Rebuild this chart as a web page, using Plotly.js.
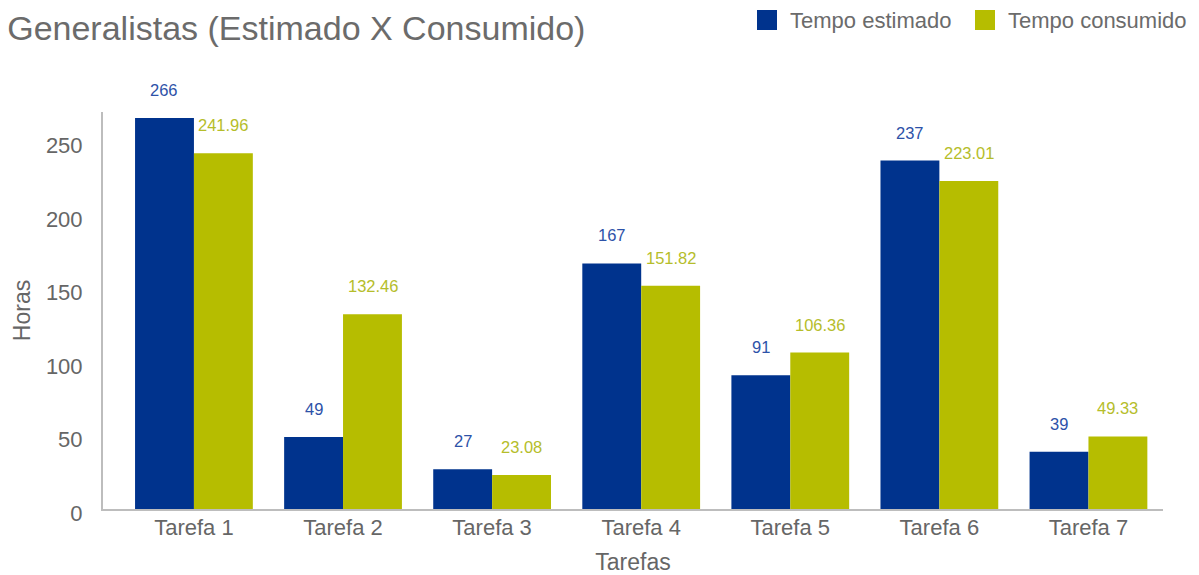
<!DOCTYPE html>
<html><head><meta charset="utf-8">
<script src="https://cdn.plot.ly/plotly-3.0.1.min.js"></script>
<style>body{margin:0;background:#fff}#c{width:1199px;height:575px}</style>
</head><body><div id="c"></div>
<script>
const categories = ['Tarefa 1','Tarefa 2','Tarefa 3','Tarefa 4','Tarefa 5','Tarefa 6','Tarefa 7'];
const estimado = [266, 49, 27, 167, 91, 237, 39];
const consumido = [241.96, 132.46, 23.08, 151.82, 106.36, 223.01, 49.33];
const seriesNames = ['Tempo estimado','Tempo consumido'];

const blue = '#00338d', yellow = '#b6bd00';
const font = 'Liberation Sans, Arial, sans-serif';

const traces = [
  {type:'bar', name:seriesNames[0], x:categories, y:estimado, marker:{color:blue}, showlegend:false},
  {type:'bar', name:seriesNames[1], x:categories, y:consumido, marker:{color:yellow}, showlegend:false}
];

// geometry of plot area (pixels) for converting legend positions to paper fractions
const W = 1199, H = 575, M = {l:103, r:36, t:112, b:66};
const pw = W - M.l - M.r, ph = H - M.t - M.b;
const px = v => (v - M.l) / pw;
const py = v => (H - M.b - v) / ph;

const annotations = [];
function addLabels(vals, shift, color){
  vals.forEach((v,i)=>annotations.push({x:categories[i], y:v, xref:'x', yref:'y', text:String(v),
    showarrow:false, xshift:shift, yshift:28, yanchor:'middle', font:{family:font, size:16.5, color:color}}));
}
addLabels(estimado, -29.5, '#2d52a8');
addLabels(consumido, 29.5, '#b5bd2a');

// custom legend (large square swatches)
const legendItems = [
  {name:seriesNames[0], color:blue, sx:757, tx:788},
  {name:seriesNames[1], color:yellow, sx:975, tx:1006}
];
const shapes = [];
legendItems.forEach(it=>{
  shapes.push({type:'rect', xref:'paper', yref:'paper', x0:px(it.sx), x1:px(it.sx+20), y0:py(30), y1:py(10),
    fillcolor:it.color, line:{width:0}});
  annotations.push({xref:'paper', yref:'paper', x:px(it.tx), y:py(20), xanchor:'left', yanchor:'middle',
    text:it.name, showarrow:false, font:{family:font, size:22, color:'#6b6b6b'}});
});

const layout = {
  width:W, height:H,
  margin:M,
  paper_bgcolor:'#fff', plot_bgcolor:'#fff',
  font:{family:font, color:'#666'},
  title:{text:'Generalistas (Estimado X Consumido)', x:0.006, xanchor:'left', y:0.951, yanchor:'middle', font:{family:font, size:34, color:'#6b6b6b'}},
  barmode:'group', bargap:0.21, bargroupgap:0,
  showlegend:false,
  xaxis:{type:'category', range:[-0.61, 6.5], showline:true, linecolor:'#bdbdbd', linewidth:2, ticks:'', showgrid:false, zeroline:false,
    tickfont:{family:font, size:22, color:'#666'}, ticklabelstandoff:-2, title:{text:'Tarefas', font:{family:font, size:23, color:'#666'}, standoff:15}},
  yaxis:{range:[0, 270], showline:true, linecolor:'#bdbdbd', linewidth:2, ticks:'', showgrid:false, zeroline:false, dtick:50,
    tickfont:{family:font, size:22, color:'#666'}, ticklabelstandoff:14, ticklabelshift:4, title:{text:'Horas', font:{family:font, size:23, color:'#666'}, standoff:9}},
  shapes:shapes,
  annotations:annotations
};
Plotly.newPlot('c', traces, layout, {displayModeBar:false, staticPlot:true});
</script></body></html>
